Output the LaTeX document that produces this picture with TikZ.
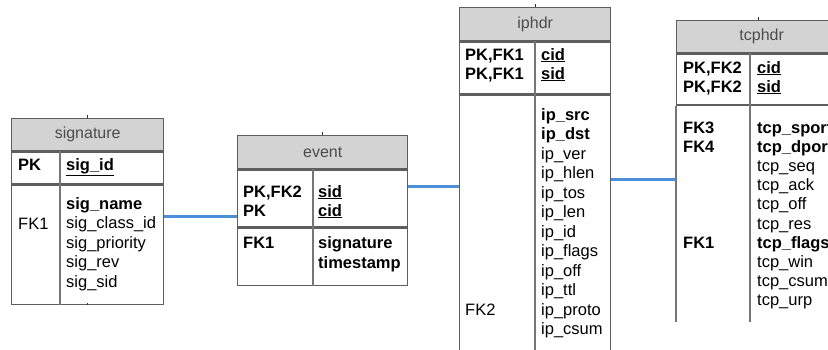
\documentclass[tikz,border=0pt]{standalone}
\usepackage{fontspec}
\setmainfont{Liberation Sans}
\usetikzlibrary{positioning}
\definecolor{bordo}{HTML}{5E5E5E}
\definecolor{intest}{HTML}{D3D3D3}
\definecolor{legameblu}{HTML}{4A8FD8}

\begin{document}
\begin{tikzpicture}[x=1pt,y=-1pt] % coordinate in pixel, y verso il basso
    % Definizione stili per le tabelle
    \tikzset{
        cella/.style={
            draw=bordo,
            line width=1.4pt,
            inner sep=0pt,
            anchor=north west
        },
        intestazione/.style={
            cella,
            fill=intest,
            text=black!70,
            font=\fontsize{16}{19.6}\selectfont
        },
        campo/.style={
            anchor=west,
            inner sep=0pt,
            text height=12pt,
            text depth=4pt,
            font=\fontsize{16.5}{19.6}\selectfont
        },
        divisore/.style={draw=bordo!85, line width=1.8pt},
        legame/.style={draw=legameblu, line width=3pt},
        tacca/.style={draw=black!80, line width=1pt}
    }

    \useasboundingbox (0,0) rectangle (828,349);
    \clip (0,0) rectangle (828,349);

    % --- Tabella 1: signature ---
    \node[intestazione, minimum width=152pt, minimum height=32pt] (sig-h) at (11,118) {signature};
    \node[cella, minimum width=152pt, minimum height=32pt] (sig-k) at (sig-h.south west) {};
    \node[cella, minimum width=152pt, minimum height=119pt] (sig-b) at (sig-k.south west) {};
    \draw[divisore] ([xshift=49pt]sig-k.north west) -- ([xshift=49pt]sig-b.south west);
    \draw[tacca] (sig-h.north) -- ++(0,-3);
    \draw[tacca] (sig-b.south) -- ++(0,-2);

    \node[campo] (sig-pk) at (18,166) {\textbf{PK}};
    \node[campo] (sig-id) at (66,166) {\underline{\textbf{sig\_id}}};
    \node[campo] (sig-fk) at (18,225) {FK1};
    \foreach \voce [count=\n from 0] in {\textbf{sig\_name}, sig\_class\_id, sig\_priority, sig\_rev, sig\_sid}
        \node[campo] (sig-\n) at (66,{205+19.6*\n}) {\voce};

    % --- Tabella 2: event ---
    \node[intestazione, minimum width=170pt, minimum height=33pt] (ev-h) at (237,135) {event};
    \node[cella, minimum width=170pt, minimum height=57pt] (ev-k) at (ev-h.south west) {};
    \node[cella, minimum width=170pt, minimum height=57pt] (ev-b) at (ev-k.south west) {};
    \draw[divisore] ([xshift=76pt]ev-k.north west) -- ([xshift=76pt]ev-b.south west);
    \draw[tacca] (ev-h.north) -- ++(0,-3);

    \node[campo] (ev-pk1) at (243,193) {\textbf{PK,FK2}};
    \node[campo] (ev-pk2) at (243,212) {\textbf{PK}};
    \node[campo] (ev-sid) at (318,193) {\underline{\textbf{sid}}};
    \node[campo] (ev-cid) at (318,212) {\underline{\textbf{cid}}};
    \node[campo] (ev-fk) at (243,244) {\textbf{FK1}};
    \node[campo] (ev-sg) at (318,244) {\textbf{signature}};
    \node[campo] (ev-ts) at (318,264) {\textbf{timestamp}};

    % --- Tabella 3: iphdr ---
    \node[intestazione, minimum width=151pt, minimum height=33pt] (ip-h) at (459,7) {iphdr};
    \node[cella, minimum width=151pt, minimum height=52pt] (ip-k) at (ip-h.south west) {};
    \node[cella, minimum width=151pt, minimum height=255pt] (ip-b) at (ip-k.south west) {};
    \draw[divisore] ([xshift=76pt]ip-k.north west) -- ([xshift=76pt]ip-b.south west);
    \draw[tacca] (ip-h.north) -- ++(0,-3);

    \node[campo] (ip-pk1) at (465,56) {\textbf{PK,FK1}};
    \node[campo] (ip-pk2) at (465,75) {\textbf{PK,FK1}};
    \node[campo] (ip-cid) at (541,56) {\underline{\textbf{cid}}};
    \node[campo] (ip-sid) at (541,75) {\underline{\textbf{sid}}};
    \node[campo] (ip-fk) at (465,311) {FK2};
    \foreach \voce [count=\n from 0] in {\textbf{ip\_src}, \textbf{ip\_dst}, ip\_ver, ip\_hlen, ip\_tos, ip\_len,
                                          ip\_id, ip\_flags, ip\_off, ip\_ttl, ip\_proto, ip\_csum}
        \node[campo] (ip-\n) at (541,{116+19.5*\n}) {\voce};

    % --- Tabella 4: tcphdr (tagliata a destra) ---
    \node[intestazione, minimum width=170pt, minimum height=32pt] (tcp-h) at (676,20) {tcphdr};
    \node[cella, minimum width=170pt, minimum height=51pt] (tcp-k) at (tcp-h.south west) {};
    \node[cella, draw=none, minimum width=170pt, minimum height=215pt] (tcp-b) at (tcp-k.south west) {};
    \draw[divisore] (tcp-b.north west) -- (tcp-b.south west);
    \draw[divisore] ([xshift=74pt]tcp-k.north west) -- ([xshift=74pt]tcp-b.south west);
    \draw[tacca] ([xshift=82pt]tcp-h.north west) -- ++(0,-3);

    \node[campo] (tcp-pk1) at (683,69) {\textbf{PK,FK2}};
    \node[campo] (tcp-pk2) at (683,88) {\textbf{PK,FK2}};
    \node[campo] (tcp-cid) at (757,69) {\underline{\textbf{cid}}};
    \node[campo] (tcp-sid) at (757,88) {\underline{\textbf{sid}}};
    \node[campo] (tcp-fk3) at (683,129) {\textbf{FK3}};
    \node[campo] (tcp-fk4) at (683,148) {\textbf{FK4}};
    \node[campo] (tcp-fk1) at (683,244) {\textbf{FK1}};
    \foreach \voce [count=\n from 0] in {\textbf{tcp\_sport}, \textbf{tcp\_dport}, tcp\_seq, tcp\_ack, tcp\_off,
                                          tcp\_res, \textbf{tcp\_flags}, tcp\_win, tcp\_csum, tcp\_urp}
        \node[campo] (tcp-\n) at (757,{129+19.2*\n}) {\voce};

    % --- Legami tra le tabelle ---
    \draw[legame] ([yshift=-32pt]sig-b.north east) coordinate (l1) -- (l1 -| ev-k.west);
    \draw[legame] ([yshift=-17pt]ev-k.north east) coordinate (l2) -- (l2 -| ip-b.west);
    \draw[legame] ([yshift=-85pt]ip-b.north east) coordinate (l3) -- (l3 -| tcp-b.west);

\end{tikzpicture}
\end{document}
